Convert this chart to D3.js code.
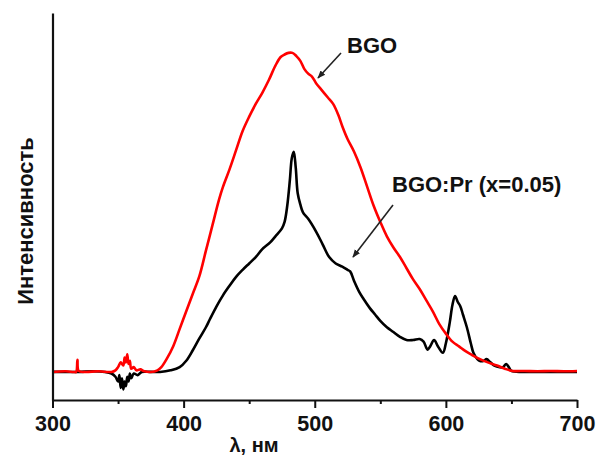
<!DOCTYPE html>
<html>
<head>
<meta charset="utf-8">
<script src="https://cdn.jsdelivr.net/npm/d3@7"></script>
<style>
  html, body { margin: 0; padding: 0; background: #fff; }
  svg { display: block; }
  text { font-family: "Liberation Sans", Arial, sans-serif; font-weight: bold; fill: #111; }
</style>
</head>
<body>
<svg id="chart" width="611" height="457"></svg>
<script>
// Photoluminescence spectra: wavelength (nm) and relative intensity
const bgoWavelength = [300,310,316,318,319,320,325,335,345,348,350,352,354,355,356,357,358,359,360,362,364,367,370,375,380,383,387,392,397,402,407,412,417,422,427,430,435,440,445,450,455,460,465,470,474,477,480,483,486,489,492,495,498,501,505,510,514,518,521,525,530,535,540,545,550,555,560,565,570,575,580,585,590,595,600,605,610,615,620,626,632,639,645,651,660,670,680,690,700];
const bgoIntensity  = [0,0.2,0,0,3.8,0.3,0,0.2,0,0.5,1.5,3,2,4.5,3,5.5,2.5,3.5,1,1.5,0.5,0.8,0.2,0,0.5,1.5,4,8,13.5,19,24.5,30,38,46,54,58,63.5,69.5,75.5,80,84,87.5,91.5,96,98.7,99.5,100,100,99,97.5,95,93.5,92.5,90.5,88.5,86,84,80.5,77,73,69,64,58,52,47,42.5,39,36,32.5,29,26,22.5,19,15,12,9.5,8,6.5,5.3,4,3,2,1,0.3,0.3,0.2,0.3,0.2,0.3];

const prWavelength = [300,310,320,330,340,345,348,350,351,352,353,354,355,356,357,358,359,360,362,365,368,375,382,390,397,402,407,412,417,420,425,430,435,440,445,450,455,460,466,470,475,477,479,481,482.5,484,485.5,487,489,491,495,501,506,511,516,521,525,527,530,534,537,542,546,550,555,560,565,570,575,580,583,586,588,591,594,597.7,600,603,605,607,609,611,613,616,619,621,624,626,629,631,634,637,641,643.5,646,648,650,660,680,700];
const prIntensity  = [0,0,0,0.2,0,-0.5,-1.5,-3,-1,-5,-2,-5.5,-3,-4.5,-1.5,-3,-0.5,-2,-0.5,-1,0,0,0,0.5,1.5,3.5,6.8,10.5,14,16.5,20.5,24,27,29.8,32,34,36,38.5,40.6,42.5,45,47,52,60,67,69,64,56,52.5,50,48,44,40,36,34,33,32,31.5,28.5,25,23,20,18,16,14,12.5,11,10,10,10.3,9.5,7,8,10,8,6,9,15.6,21,23.8,22,20.6,18,14,9,6,4,3.4,3.5,4,3,2,1.5,1.5,2.5,1.5,0.3,0,0,0];

const xTicks = [300, 400, 500, 600, 700];
const xMinorTicks = [350, 450, 550, 650];
const xLabel = "λ, нм";
const yLabel = "Интенсивность";
const seriesNames = ["BGO", "BGO:Pr (x=0.05)"];

const svg = d3.select("#chart");

const x = d3.scaleLinear().domain([300, 700]).range([52.5, 577]);
const y = d3.scaleLinear().domain([-8.8, 112.5]).range([400, 13]);

const line = d3.line()
  .x(d => x(d[0]))
  .y(d => y(d[1]))
  .curve(d3.curveCatmullRom.alpha(0.5));

const prData = prWavelength.map((w, i) => [w, prIntensity[i]]);
const bgoData = bgoWavelength.map((w, i) => [w, bgoIntensity[i]]);

// spectra: doped sample underneath, pure BGO on top
svg.append("path").datum(prData)
  .attr("d", line).attr("fill", "none")
  .attr("stroke", "#000").attr("stroke-width", 2.6)
  .attr("stroke-linejoin", "round");
svg.append("path").datum(bgoData)
  .attr("d", line).attr("fill", "none")
  .attr("stroke", "#ff0000").attr("stroke-width", 2.6)
  .attr("stroke-linejoin", "round");

// axes
const xAxis = svg.append("g").attr("transform", `translate(0,${y.range()[0]})`)
  .call(d3.axisBottom(x).tickValues(xTicks).tickSize(8).tickPadding(8).tickSizeOuter(0));
svg.append("g").attr("transform", `translate(0,${y.range()[0]})`)
  .call(d3.axisBottom(x).tickValues(xMinorTicks).tickSize(4).tickFormat("").tickSizeOuter(0))
  .select(".domain").remove();
xAxis.selectAll("text").attr("font-size", 21.5).style("font-family", "'Liberation Sans', Arial, sans-serif").style("font-weight", "bold").attr("fill", "#111");

svg.append("g").attr("transform", `translate(${x.range()[0]},0)`)
  .call(d3.axisLeft(y).tickValues([]).tickSizeOuter(0));

svg.selectAll(".domain").attr("stroke", "#111").attr("stroke-width", 2.2);
svg.selectAll(".tick line").attr("stroke", "#111").attr("stroke-width", 2);

// axis titles
svg.append("text").attr("x", 254).attr("y", 452)
  .attr("text-anchor", "middle").attr("font-size", 20).text(xLabel);
svg.append("text").attr("transform", "translate(33,221) rotate(-90)")
  .attr("text-anchor", "middle").attr("font-size", 22).text(yLabel);

// annotations with arrows
const defs = svg.append("defs");
defs.append("marker").attr("id", "arrowhead")
  .attr("viewBox", "0 0 10 10").attr("refX", 9).attr("refY", 5)
  .attr("markerWidth", 5).attr("markerHeight", 5).attr("orient", "auto")
  .append("path").attr("d", "M0,1 L10,5 L0,9 Z").attr("fill", "#222");

function annotate(label, tx, ty, from, to) {
  svg.append("text").attr("x", tx).attr("y", ty).attr("font-size", 22).text(label);
  svg.append("line")
    .attr("x1", from[0]).attr("y1", from[1]).attr("x2", to[0]).attr("y2", to[1])
    .attr("stroke", "#222").attr("stroke-width", 1.6)
    .attr("marker-end", "url(#arrowhead)");
}
annotate(seriesNames[0], 347, 53, [341, 53], [318, 78]);
annotate(seriesNames[1], 392, 192, [393, 205], [353, 257]);
</script>
</body>
</html>
